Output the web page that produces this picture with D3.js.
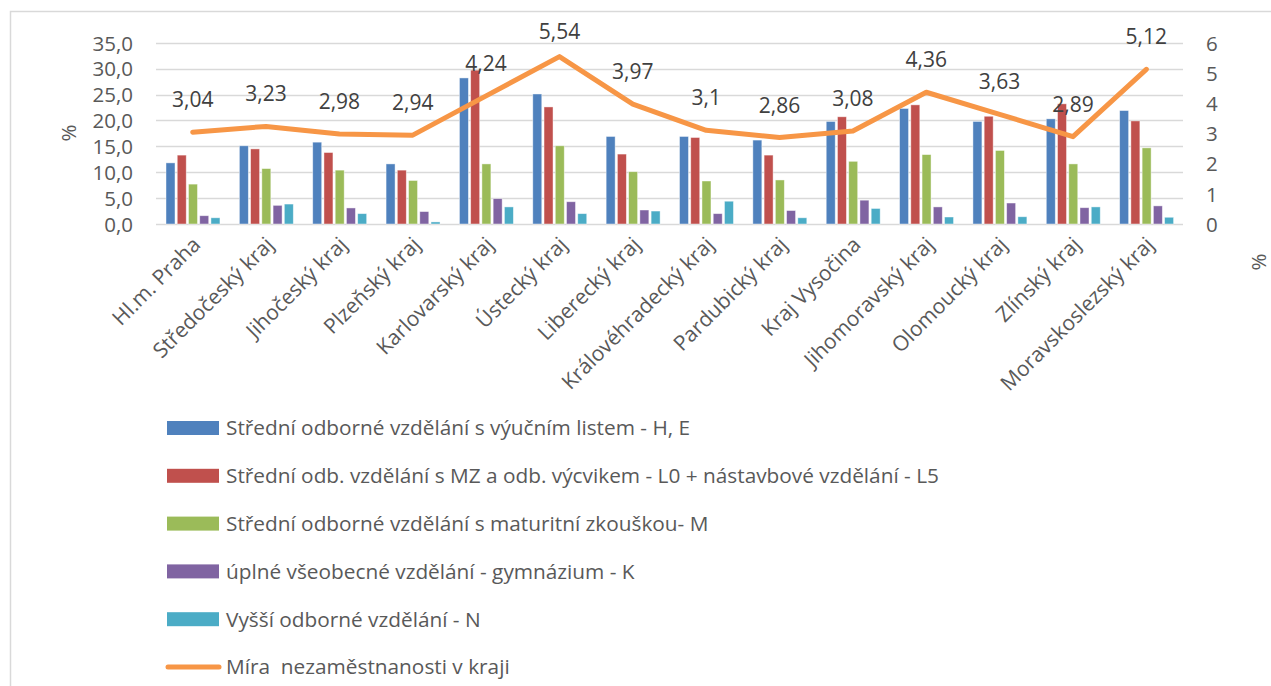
<!DOCTYPE html>
<html><head><meta charset="utf-8">
<script src="https://cdn.jsdelivr.net/npm/d3@7"></script>
<style>
html,body{margin:0;padding:0;background:#fff;}
svg{display:block;font-family:"Open Sans",sans-serif;}
</style></head>
<body>
<svg id="c" width="1271" height="686"></svg>
<script>
const categories = ["Hl.m. Praha","Středočeský kraj","Jihočeský kraj","Plzeňský kraj","Karlovarský kraj","Ústecký kraj","Liberecký kraj","Královéhradecký kraj","Pardubický kraj","Kraj Vysočina","Jihomoravský kraj","Olomoucký kraj","Zlínský kraj","Moravskoslezský kraj"];
const seriesNames = ["Střední odborné vzdělání s výučním listem - H, E","Střední odb. vzdělání s MZ a odb. výcvikem - L0 + nástavbové vzdělání - L5","Střední odborné vzdělání s maturitní zkouškou- M","úplné všeobecné vzdělání - gymnázium - K","Vyšší odborné vzdělání - N"];
const seriesH_E = [11.8,15.1,15.8,11.6,28.2,25.1,16.9,16.9,16.2,19.8,22.3,19.8,20.3,21.9];
const seriesL0_L5 = [13.3,14.5,13.8,10.4,29.7,22.6,13.5,16.7,13.3,20.7,23.0,20.8,23.2,19.9];
const seriesM = [7.7,10.7,10.4,8.4,11.6,15.1,10.1,8.3,8.5,12.1,13.4,14.2,11.6,14.7];
const seriesK = [1.6,3.6,3.1,2.4,4.9,4.3,2.7,2.0,2.6,4.6,3.3,4.05,3.15,3.5];
const seriesN = [1.2,3.85,2.0,0.4,3.3,2.0,2.5,4.4,1.2,3.0,1.35,1.4,3.3,1.3];
const lineName = "Míra  nezaměstnanosti v kraji";
const unemployment = [3.04,3.23,2.98,2.94,4.24,5.54,3.97,3.1,2.86,3.08,4.36,3.63,2.89,5.12];
const leftTicks = [0,5,10,15,20,25,30,35];
const rightTicks = [0,1,2,3,4,5,6];
const colors = ["#4f81bd","#c0504d","#9bbb59","#8064a2","#4bacc6"];
const lineColor = "#f79646";

const allSeries = [seriesH_E, seriesL0_L5, seriesM, seriesK, seriesN];
const svg = d3.select("#c");
const textColor = "#595959";

// frame
svg.append("path").attr("d","M10.5,686 L10.5,11.5 L1271,11.5").attr("fill","none").attr("stroke","#d9d9d9").attr("stroke-width",1.5);

const pLeft = 156, pRight = 1183, pTop = 42.7, pBottom = 224;
const x0 = d3.scaleBand().domain(categories).range([pLeft,pRight]).padding(0);
const x1 = d3.scaleBand().domain(d3.range(5)).range([10, x0.bandwidth()-9.4]).paddingInner(0.2);
const yL = d3.scaleLinear().domain([0,35]).range([pBottom,pTop]);
const yR = d3.scaleLinear().domain([0,6]).range([pBottom,pTop]);

// gridlines
svg.append("g").selectAll("line").data(leftTicks).join("line")
  .attr("x1",pLeft).attr("x2",pRight)
  .attr("y1",d=>Math.round(yL(d))+0.5).attr("y2",d=>Math.round(yL(d))+0.5)
  .attr("stroke","#d9d9d9").attr("stroke-width",1.5);

// left axis
const axL = svg.append("g").attr("transform",`translate(${pLeft},0)`)
  .call(d3.axisLeft(yL).tickValues(leftTicks).tickSize(0).tickPadding(23).tickFormat(d=>d3.format(".1f")(d).replace(".",",")));
axL.select(".domain").remove();
axL.selectAll("text").attr("fill",textColor).style("font-size","20.5px").style("font-family","Open Sans").attr("dy","0.36em");

// right axis
const axR = svg.append("g").attr("transform",`translate(${pRight},0)`)
  .call(d3.axisRight(yR).tickValues(rightTicks).tickSize(0).tickPadding(23).tickFormat(d3.format("d")));
axR.select(".domain").remove();
axR.selectAll("text").attr("fill",textColor).style("font-size","20.5px").style("font-family","Open Sans").attr("dy","0.36em");

// axis titles
svg.append("text").attr("transform","translate(76,133) rotate(-90)").attr("text-anchor","middle")
  .attr("fill",textColor).style("font-size","20.5px").text("%");
svg.append("text").attr("transform","translate(1266,262) rotate(-90)").attr("text-anchor","middle")
  .attr("fill",textColor).style("font-size","20.5px").text("%");

// bars
const gBars = svg.append("g");
categories.forEach((c,i)=>{
  allSeries.forEach((s,j)=>{
    gBars.append("rect")
      .attr("x",x0(c)+x1(j)).attr("width",x1.bandwidth())
      .attr("y",yL(s[i])).attr("height",yL(0)-yL(s[i]))
      .attr("fill",colors[j]).attr("stroke","rgba(255,255,255,0.55)").attr("stroke-width",0.8);
  });
});

// category labels
svg.append("g").selectAll("text").data(categories).join("text")
  .attr("transform",d=>`translate(${x0(d)+x0.bandwidth()/2+9},${pBottom+22}) rotate(-45)`)
  .attr("text-anchor","end").attr("fill",textColor).style("font-size","21px").text(d=>d);

// line
const line = d3.line().x((d,i)=>x0(categories[i])+x0.bandwidth()/2).y(d=>yR(d));
svg.append("path").datum(unemployment).attr("d",line).attr("fill","none")
  .attr("stroke",lineColor).attr("stroke-width",5).attr("stroke-linejoin","round").attr("stroke-linecap","round");

// data labels
svg.append("g").selectAll("text").data(unemployment).join("text")
  .attr("x",(d,i)=>x0(categories[i])+x0.bandwidth()/2)
  .attr("y",d=>Math.max(yR(d)-32.5,31.7)).attr("dy","0.36em").attr("text-anchor","middle")
  .attr("fill","#404040").style("font-size","21px")
  .text(d=>String(d).replace(".",","));

// legend
const lg = svg.append("g");
const legendItems = seriesNames.map((n,i)=>({name:n,color:colors[i],type:"rect"})).concat([{name:lineName,color:lineColor,type:"line"}]);
legendItems.forEach((it,i)=>{
  const cy = 428 + i*47.8;
  if(it.type==="rect"){
    lg.append("rect").attr("x",167).attr("y",cy-7).attr("width",52).attr("height",14).attr("fill",it.color);
  } else {
    lg.append("line").attr("x1",168).attr("x2",219).attr("y1",cy).attr("y2",cy)
      .attr("stroke",it.color).attr("stroke-width",5).attr("stroke-linecap","round");
  }
  lg.append("text").attr("x",226).attr("y",cy).attr("dy","0.36em")
    .attr("fill",textColor).style("font-size","20.8px").style("white-space","pre").text(it.name);
});
</script>
</body></html>
